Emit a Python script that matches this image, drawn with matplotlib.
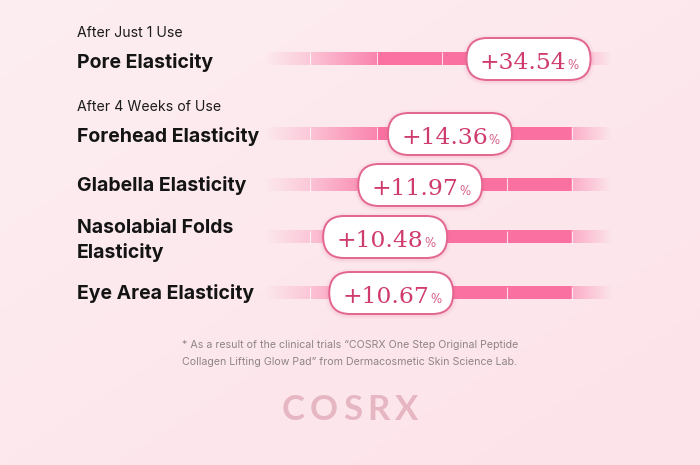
import numpy as np
import matplotlib
matplotlib.use("Agg")
import matplotlib.pyplot as plt
from matplotlib.patches import FancyBboxPatch
import matplotlib.transforms as mtransforms

# ---------------- data ----------------
group_titles = ["After Just 1 Use", "After 4 Weeks of Use"]
categories = ["Pore Elasticity", "Forehead Elasticity", "Glabella Elasticity",
              "Nasolabial Folds\nElasticity", "Eye Area Elasticity"]
values = [34.54, 14.36, 11.97, 10.48, 10.67]
footnote_lines = [
    "* As a result of the clinical trials \u201cCOSRX One Step Original Peptide",
    "Collagen Lifting Glow Pad\u201d from Dermacosmetic Skin Science Lab.",
]
brand = "COSRX"

# ---------------- layout (pixels) ----------------
W, H = 700, 465
row_y = [59, 134, 185, 237, 293]           # row centres
label_base = [67.7, 141.7, 190.7, 232.7, 299.3]
group_base = [36.7, 110.7]
label_x = 77
track_x0, track_x1 = 265, 612
track_h = 13
sep_x = [310, 377, 442, 507, 572]

fig = plt.figure(figsize=(7, 4.65), dpi=100)
bg = fig.add_axes([0, 0, 1, 1])
bg.axis("off")

# background gradient
yy, xx = np.mgrid[0:1:200j, 0:1:300j]
t = np.clip(0.5 * xx + 0.5 * yy, 0, 1)
c0 = np.array([252, 238, 241]) / 255
c1 = np.array([253, 226, 233]) / 255
img = c0 + (c1 - c0) * t[..., None]
bg.imshow(img, extent=(0, W, H, 0), aspect="auto", zorder=0, interpolation="bilinear")

# decorative tracks
tx = np.linspace(track_x0, track_x1, 800)
alpha = np.interp(tx, [265, 309, 311, 376, 378, 571, 573, 612],
                  [0.0, 0.25, 0.30, 0.78, 0.93, 0.93, 0.45, 0.0])
pink = np.array([250, 104, 156]) / 255
track = np.zeros((1, len(tx), 4))
track[..., :3] = pink
track[..., 3] = alpha
for y in row_y:
    bg.imshow(track, extent=(track_x0, track_x1, y + track_h / 2, y - track_h / 2),
              aspect="auto", zorder=1, interpolation="bilinear")
    for sx in sep_x:
        bg.plot([sx, sx], [y - track_h / 2, y + track_h / 2], color="white",
                lw=0.8, alpha=0.75, zorder=2, solid_capstyle="butt")

bg.set_xlim(0, W)
bg.set_ylim(H, 0)

# text labels
ff_sans = ["Inter", "DejaVu Sans"]
for txt, yb in zip(group_titles, group_base):
    bg.text(label_x, yb, txt, fontsize=10.2, family=ff_sans, color="#1c1c1c",
            va="baseline", ha="left", zorder=3)
for txt, yb in zip(categories, label_base):
    for k, line in enumerate(txt.split("\n")):
        bg.text(label_x, yb + 25 * k, line, fontsize=14.0, family=ff_sans,
                fontweight="bold", color="#141414", va="baseline", ha="left", zorder=3)

# footnote
for k, line in enumerate(footnote_lines):
    bg.text(350, 348.3 + 16.7 * k, line, fontsize=7.65, family=ff_sans,
            color="#8e8487", va="baseline", ha="center", zorder=3)

# ---------------- value axis (non-linear display scale) ----------------
ax = fig.add_axes([track_x0 / W, 0, (track_x1 - track_x0) / W, 1])
fwd = lambda v: np.log(np.maximum(np.asarray(v, dtype=float) - 9.0, 1e-9))
inv = lambda u: np.exp(u) + 9.0
ax.set_xscale("function", functions=(fwd, inv))
ax.set_xlim(9.136, 143.1)
ax.set_ylim(H, 0)
ax.axis("off")

s = fig.dpi / 100.0
bw, bh = 124, 42
for v, y in zip(values, row_y):
    off = mtransforms.ScaledTranslation(v, y, ax.transData)
    tr = mtransforms.Affine2D().scale(s) + off
    # soft glow
    for pad, a in [(4, 0.06), (2, 0.10)]:
        g = FancyBboxPatch((-bw / 2 - pad, -bh / 2 - pad - 1), bw + 2 * pad, bh + 2 * pad,
                           boxstyle=f"round,pad=0,rounding_size={bh / 2 + pad}",
                           transform=tr, fc="#e8648f", ec="none", alpha=a,
                           zorder=4, clip_on=False)
        ax.add_artist(g)
    box = FancyBboxPatch((-bw / 2, -bh / 2), bw, bh,
                         boxstyle=f"round,pad=0,rounding_size={bh / 2}",
                         transform=tr, fc="white", ec="#e2668f", lw=1.4,
                         zorder=5, clip_on=False)
    ax.add_artist(box)
    nt = ax.annotate(f"+{v:.2f}", xy=(v, y), xycoords="data",
                     xytext=(-5.5, -10), textcoords="offset pixels",
                     ha="center", va="baseline", fontsize=16.8,
                     family="DejaVu Serif", color="#cf3c6c", zorder=6,
                     annotation_clip=False)
    ax.annotate("%", xy=(1, y), xycoords=(nt, "data"),
                xytext=(1, -10), textcoords="offset pixels",
                ha="left", va="baseline", fontsize=8.5,
                family="DejaVu Serif", color="#d4527c", zorder=6,
                annotation_clip=False)

# ---------------- brand logo (letter-spaced) ----------------
fig.canvas.draw()
r = fig.canvas.get_renderer()
letters = []
for ch in brand:
    tt = bg.text(0, 420, ch, fontsize=25, family=["Lato", "DejaVu Sans"],
                 fontweight="bold", color="#e6b7c3", va="baseline", ha="left", zorder=3)
    letters.append(tt)
widths = [tt.get_window_extent(r).width / s for tt in letters]
spacing = 5.0
total = sum(widths) + spacing * (len(widths) - 1)
x = 350 - total / 2
for tt, w in zip(letters, widths):
    tt.set_x(x)
    x += w + spacing

fig.savefig("out.png", dpi=100)
